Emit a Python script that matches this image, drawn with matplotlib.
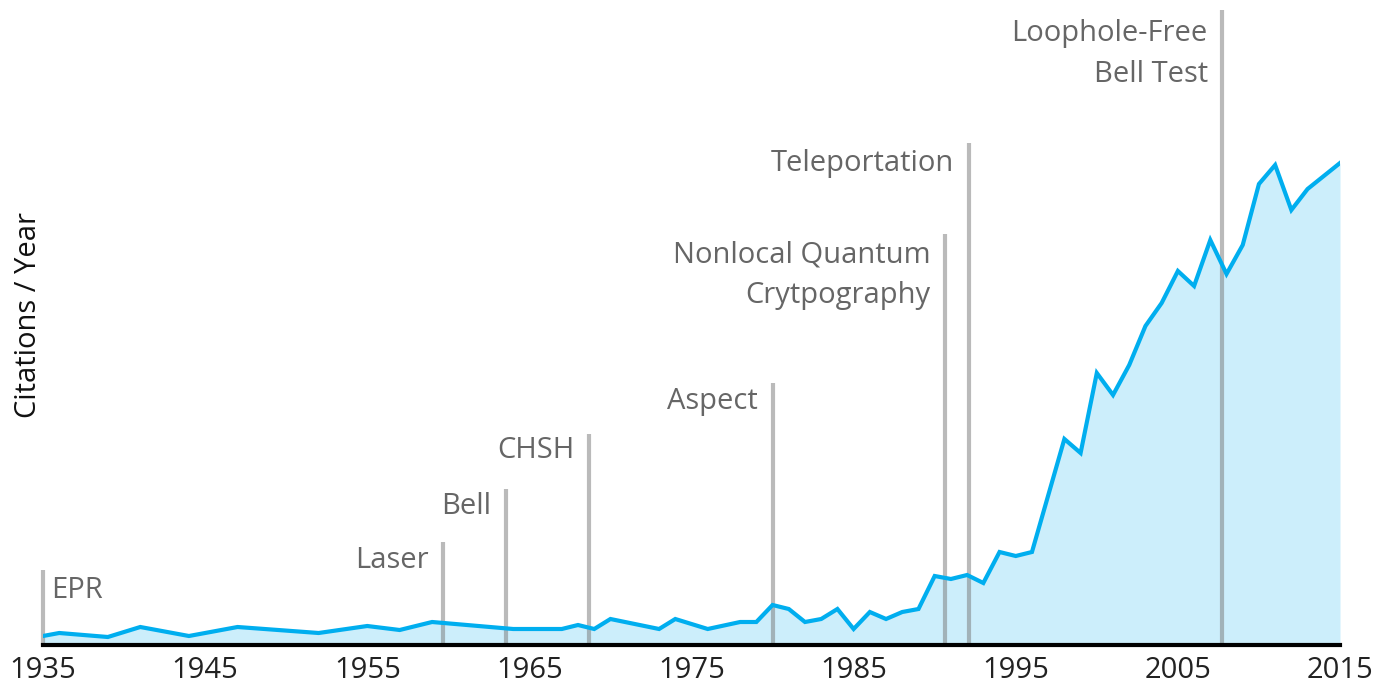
import matplotlib.pyplot as plt

# citations per year (arbitrary units)
years = [1935, 1936, 1939, 1941, 1944, 1947, 1952, 1955, 1957, 1959,
         1964, 1967, 1968, 1969, 1970, 1973, 1974, 1976, 1978, 1979,
         1980, 1981, 1982, 1983, 1984, 1985, 1986, 1987, 1988, 1989,
         1990, 1991, 1992, 1993, 1994, 1995, 1996, 1998, 1999, 2000,
         2001, 2002, 2003, 2004, 2005, 2006, 2007, 2008, 2009, 2010,
         2011, 2012, 2013, 2015]
citations = [9, 12, 8, 18, 9, 18, 12, 19, 15, 23,
             16, 16, 20, 16, 26, 16, 26, 16, 23, 23,
             40, 36, 23, 26, 36, 16, 33, 26, 33, 36,
             69, 66, 70, 62, 93, 89, 93, 206, 192, 272,
             250, 280, 319, 342, 374, 359, 405, 371, 400, 461,
             480, 435, 456, 482]

# milestones: position on the time axis, height of the marker line, label
event_years = [1935.0, 1959.7, 1963.55, 1968.7, 1980.0, 1990.65, 1992.1, 2007.75]
event_heights = [75, 103, 156, 211, 262, 411, 502, 635]
event_labels = ["EPR", "Laser", "Bell", "CHSH", "Aspect",
                "Nonlocal Quantum\nCrytpography", "Teleportation",
                "Loophole-Free\nBell Test"]
label_heights = [55, 85, 139, 194, 243, 370, 481, 591]

plt.rcParams['font.family'] = ['Open Sans', 'DejaVu Sans']

fig = plt.figure(figsize=(13.91, 6.89), dpi=100)
ax = fig.add_axes([43 / 1391, 44 / 689, 1297 / 1391, 645 / 689])

blue = '#00AEEF'
ax.fill_between(years, citations, 0, color=blue, alpha=0.2, lw=0, zorder=1)
ax.vlines(event_years, 0, event_heights, color='#777777', alpha=0.5, lw=3,
          zorder=2, clip_on=False)
ax.plot(years, citations, color=blue, lw=3, zorder=3, solid_joinstyle='miter')

for i, (x, y, lab) in enumerate(zip(event_years, label_heights, event_labels)):
    if i == 0:
        ax.text(x + 0.5, y, lab, ha='left', va='center', fontsize=21, color='#666666')
    else:
        ax.text(x - 0.9, y, lab, ha='right', va='center', fontsize=21,
                color='#666666', linespacing=1.5)

ax.set_xlim(1935, 2015)
ax.set_ylim(0, 645)
ax.set_xticks(range(1935, 2016, 10))
ax.tick_params(axis='x', length=0, pad=8, labelsize=21, labelcolor='#222222')
ax.set_yticks([])
for s in ['top', 'right', 'left']:
    ax.spines[s].set_visible(False)
ax.spines['bottom'].set_linewidth(3)
ax.spines['bottom'].set_zorder(4)
fig.text(28 / 1391, (689 - 315) / 689, "Citations / Year", rotation=90,
         ha='center', va='center', fontsize=21, color='#111111')

fig.savefig("out.png", dpi=100)
